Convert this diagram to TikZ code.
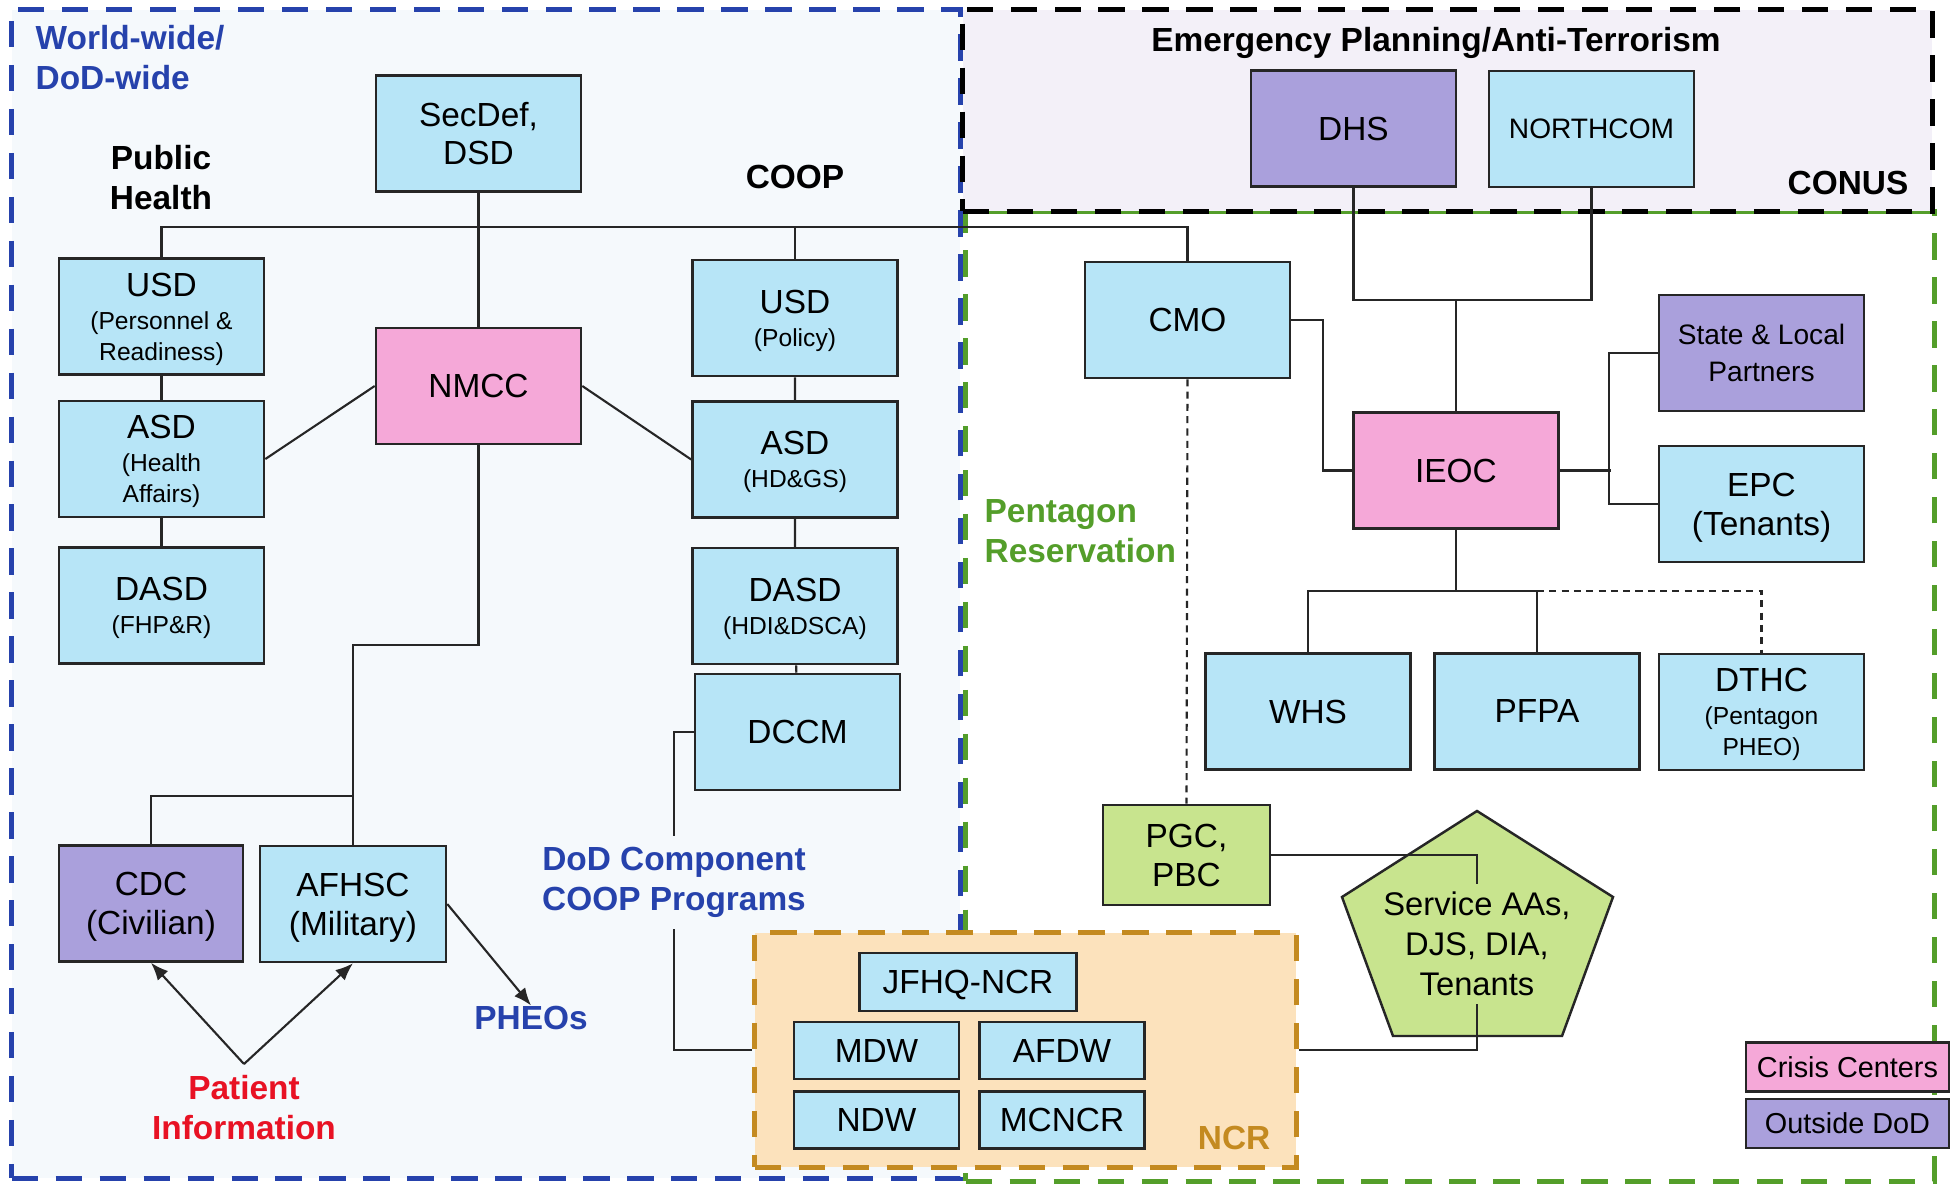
\documentclass[tikz,border=0pt]{standalone}
\usepackage{fontspec}
\setmainfont{Liberation Sans}
\usetikzlibrary{positioning,arrows.meta}

\definecolor{boxblue}{RGB}{183,229,247}
\definecolor{crisispink}{RGB}{245,168,216}
\definecolor{outsidepurple}{RGB}{170,160,220}
\definecolor{sitegreen}{RGB}{200,228,142}
\definecolor{ncrfill}{RGB}{252,226,188}
\definecolor{ncrline}{RGB}{196,138,32}
\definecolor{worldblue}{RGB}{38,66,172}
\definecolor{worldfill}{RGB}{245,249,252}
\definecolor{conusfill}{RGB}{243,240,248}
\definecolor{resgreen}{RGB}{84,158,42}
\definecolor{patientred}{RGB}{232,18,36}

\newcommand*{\subsz}{\fontsize{7}{8.6}\selectfont}

\begin{document}
\begin{tikzpicture}[
	x=0.01cm, y=-0.01cm,
	box/.style={draw=black!85, line width=0.7pt, fill=boxblue, align=center,
		minimum width=2.05cm, minimum height=1.16cm, inner sep=1pt, text depth=0pt,
		font=\fontsize{9.5}{11}\selectfont},
	crisis/.style={box, fill=crisispink},
	outside/.style={box, fill=outsidepurple},
	site/.style={box, fill=sitegreen},
	unit/.style={box, minimum width=1.65cm, minimum height=0.57cm},
	legendbox/.style={box, minimum width=2.03cm, minimum height=0.49cm,
		font=\fontsize{8.2}{9.8}\selectfont},
	pent/.style={draw=black!85, line width=0.7pt, fill=sitegreen},
	zone/.style={line width=1.4pt, dash pattern=on 7.5pt off 5pt, inner sep=0pt},
	ncrzone/.style={zone, draw=ncrline, fill=ncrfill},
	hd/.style={font=\fontsize{9.5}{11.4}\selectfont\bfseries, inner sep=0pt},
	link/.style={line width=0.6pt, black!85},
	weak/.style={link, dash pattern=on 2pt off 1.5pt},
	info/.style={link, -{Latex[length=5pt,width=4pt]}},
]
\useasboundingbox (0,0) rectangle (1954,1185);

% ---- zones ----
\node[zone, draw=worldblue, fill=worldfill, minimum width=9.48cm, minimum height=11.68cm] (world) at (486,594) {};
\node[zone, draw=resgreen, fill=white, minimum width=9.68cm, minimum height=9.69cm] (reservation) at (1450,696.5) {};
\node[zone, draw=black, fill=conusfill, minimum width=9.69cm, minimum height=2.01cm] (conus) at (1447.5,110.5) {};

\node[hd, text=worldblue, align=left, anchor=north west] (worldlbl) at (35,25) {World-wide/\\DoD-wide};
\node[hd, anchor=base] (eplbl) at (1436,52) {Emergency Planning/Anti-Terrorism};
\node[hd, anchor=base east] (conuslbl) at (1909,195) {CONUS};
\node[hd, text=resgreen, align=left, anchor=north west] (reslbl) at (984,499) {Pentagon\\Reservation};

% ---- DoD-wide: public health and COOP ----
\node[box] (secdef) at (478.5,133.5) {SecDef,\\DSD};
\node[hd, align=center, anchor=north] (phlbl) at (161,145) {Public\\Health};
\node[hd] (cooplbl) at (795,177) {COOP};

\node[box] (usdpr) at (161.5,316.5) {USD\\[-1.6pt]{\subsz(Personnel \&}\\[-2.2pt]{\subsz Readiness)}};
\node[box, below=0.24cm of usdpr] (asdha) {ASD\\[-1.6pt]{\subsz(Health}\\[-2.2pt]{\subsz Affairs)}};
\node[box, below=0.28cm of asdha] (dasdfhp) {DASD\\[-1.6pt]{\subsz(FHP\&R)}};

\node[crisis] (nmcc) at (478.5,386) {NMCC};

\node[box] (usdpol) at (795,318) {USD\\[-1.6pt]{\subsz(Policy)}};
\node[box, below=0.23cm of usdpol] (asdhd) {ASD\\[-1.6pt]{\subsz(HD\&GS)}};
\node[box, below=0.28cm of asdhd] (dasdhdi) {DASD\\[-1.6pt]{\subsz(HDI\&DSCA)}};
\node[box] (dccm) at (797.5,732) {DCCM};

\node[outside, minimum width=1.84cm] (cdc) at (151,903.5) {CDC\\(Civilian)};
\node[box, minimum width=1.86cm] (afhsc) at (353,904) {AFHSC\\(Military)};
\node[hd, text=worldblue] (pheos) at (531,1018) {PHEOs};
\node[hd, text=patientred, align=center, anchor=north, inner sep=3pt] (patient) at (244,1064) {Patient\\Information};
\node[hd, text=worldblue, align=center, anchor=north, inner sep=3pt] (coopprog) at (674,836) {DoD Component\\COOP Programs};

% ---- CONUS and Pentagon reservation ----
\node[outside] (dhs) at (1353.5,128.5) {DHS};
\node[box, font=\fontsize{8}{9.6}\selectfont] (northcom) at (1591.5,129) {NORTHCOM};
\node[box] (cmo) at (1187.5,320) {CMO};
\node[crisis] (ieoc) at (1456,470.5) {IEOC};
\node[outside, font=\fontsize{8}{10.4}\selectfont] (partners) at (1761.5,353) {State \& Local\\Partners};
\node[box] (epc) at (1761.5,504) {EPC\\(Tenants)};
\node[box] (whs) at (1308,711.5) {WHS};
\node[box] (pfpa) at (1537,711.5) {PFPA};
\node[box] (dthc) at (1761.5,712) {DTHC\\[-1.6pt]{\subsz(Pentagon}\\[-2.2pt]{\subsz PHEO)}};
\node[site, minimum width=1.67cm, minimum height=1cm] (pgc) at (1186.5,855) {PGC,\\PBC};

\draw[pent] (1477,811) -- (1613,897) -- (1562,1036) -- (1393,1036) -- (1342,897) -- cycle;
\node[align=center, inner sep=2pt, font=\fontsize{9.3}{11.4}\selectfont] (svc) at (1477,944) {Service AAs,\\DJS, DIA,\\Tenants};

% ---- NCR ----
\node[ncrzone, minimum width=5.41cm, minimum height=2.34cm] (ncr) at (1025.5,1050) {};
\node[unit, minimum width=2.17cm, minimum height=0.58cm] (jfhq) at (968,982) {JFHQ-NCR};
\node[unit] (mdw) at (876.5,1050.5) {MDW};
\node[unit, right=0.18cm of mdw] (afdw) {AFDW};
\node[unit, below=0.1cm of mdw] (ndw) {NDW};
\node[unit, below=0.1cm of afdw] (mcncr) {MCNCR};
\node[hd, text=ncrline, anchor=base east] (ncrlbl) at (1271,1149) {NCR};

% ---- legend ----
\node[legendbox, fill=crisispink] (lgcrisis) at (1847.5,1067) {Crisis Centers};
\node[legendbox, fill=outsidepurple, below=0.05cm of lgcrisis] (lgoutside) {Outside DoD};

% ---- connectors ----
\coordinate (bus) at (0,227);
\coordinate (nmccfork) at (0,645);
\coordinate (cdcfork) at (0,796);
\coordinate (cmdfork) at (0,300);
\coordinate (opsfork) at (0,591);

\draw[link] (usdpr.north) |- (cmo.north |- bus) -- (cmo.north);
\draw[link] (usdpol.north) -- (usdpol.north |- bus);
\draw[link] (secdef) -- (nmcc);
\draw[link] (usdpr) -- (asdha) -- (dasdfhp);
\draw[link] (usdpol) -- (asdhd) -- (dasdhdi) -- (dccm);
\draw[link] (nmcc.west) -- (asdha.east);
\draw[link] (nmcc.east) -- (asdhd.west);
\draw[link] (nmcc.south) |- (afhsc.north |- nmccfork) -- (afhsc.north);
\draw[link] (cdc.north) |- (afhsc.north |- cdcfork);
\draw[info] (afhsc.east) -- (pheos.north);
\draw[info] (patient.north) -- (cdc.south);
\draw[info] (patient.north) -- (afhsc.south);
\draw[link] (dccm.west) -| (coopprog.north);
\draw[link] (coopprog.south) |- (ncr.west);

\draw[link] (dhs.south) |- (northcom.south |- cmdfork) -- (northcom.south);
\draw[link] (ieoc.north) -- (ieoc.north |- cmdfork);
\draw[link] (cmo.east) -- ++(32,0) |- (ieoc.west);
\draw[link] (ieoc.east) -- ++(51,0);
\draw[link] (partners.west) -- ++(-49,0) |- (epc.west);
\draw[link] (ieoc.south) -- (ieoc.south |- opsfork);
\draw[link] (whs.north) |- (pfpa.north |- opsfork) -- (pfpa.north);
\draw[weak] (pfpa.north |- opsfork) -| (dthc.north);
\draw[weak] (cmo.south) -- (pgc.north);
\draw[link] (pgc.east) -| (svc.north);
\draw[link] (ncr.east) -| (svc.south);

\end{tikzpicture}
\end{document}
